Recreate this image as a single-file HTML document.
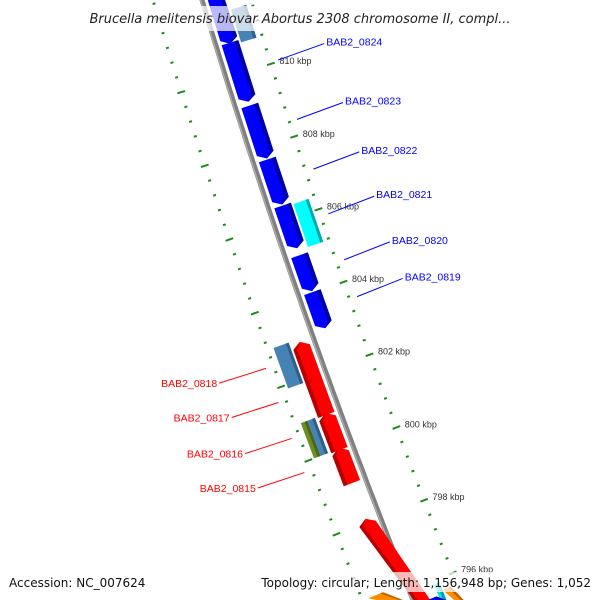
<!DOCTYPE html>
<html><head><meta charset="utf-8">
<style>
html,body{margin:0;padding:0;background:#fff;width:600px;height:600px;overflow:hidden;}
svg{display:block;font-family:"Liberation Sans","DejaVu Sans",sans-serif;overflow:hidden;}
</style></head>
<body>
<svg id="map" width="600" height="600" viewBox="0 0 600 600" xmlns="http://www.w3.org/2000/svg">
<g id="ticks"></g>
<g id="backbone"></g>
<g id="genes"></g>
<g id="labels"></g>
<g id="overlay">
<rect x="72" y="6" width="456" height="25" fill="#fff" opacity="0.72"/>
<text x="300" y="23" text-anchor="middle" font-size="13" font-style="italic" fill="#222" style="font-family:'DejaVu Sans',sans-serif">Brucella melitensis biovar Abortus 2308 chromosome II, compl...</text>
<text x="9" y="587" font-size="12" fill="#111" style="font-family:'DejaVu Sans',sans-serif">Accession: NC_007624</text>
<rect x="258" y="572" width="338" height="20" fill="#fff" opacity="0.72"/>
<text x="591" y="587" text-anchor="end" font-size="12" fill="#111" style="font-family:'DejaVu Sans',sans-serif">Topology: circular; Length: 1,156,948 bp; Genes: 1,052</text>
</g>
</svg>
<script>
// ---- data ----
const tickKbp = [810, 808, 806, 804, 802, 800, 798, 796];
const tickLabels = ['810 kbp','808 kbp','806 kbp','804 kbp','802 kbp','800 kbp','798 kbp','796 kbp'];
const geneNames = ['g0','BAB2_0824','BAB2_0823','BAB2_0822','BAB2_0821','BAB2_0820','BAB2_0819','BAB2_0818','BAB2_0817','BAB2_0816','BAB2_0815','g11'];
const geneStart = [812.2, 810.85, 809.13, 807.65, 806.39, 805.03, 804.02, 801.83, 800.93, 799.97, 799.07, 794.0];
const geneEnd   = [810.82, 809.23, 807.68, 806.42, 805.22, 804.05, 803.03, 802.92, 801.97, 800.98, 800.03, 798.1];
const geneSide  = [1,1,1,1,1,1,1,-1,-1,-1,-1,-1];
const labeled   = [false,true,true,true,true,true,true,true,true,true,true,false];
const featStart = [811.67, 806.34, 803.0, 800.96, 800.96, 796.2, 795.9, 795.6, 795.7];
const featEnd   = [810.77, 805.16, 801.9, 800.0, 800.0, 794.0, 795.3, 794.0, 794.5];
const featTier  = ['out','out','in','inA','inB','in','outA','blue','outB'];
const featColor = ['#4682b4','#00ffff','#4682b4','#6b8e23','#4682b4','#ff8c00','#00e5ee','#0000ff','#ff8c00'];

// ---- geometry ----
const B = y => 202 + 0.3017*y + 8.33e-5*y*y;
const Bs = y => 0.3017 + 1.666e-4*y;
const Y = k => 78 + (810 - k)*36.6;
function P(k, d){
  const y0 = Y(k), x0 = B(y0), s = Bs(y0), n = Math.sqrt(1+s*s);
  return [x0 + d/n, y0 - d*s/n];
}
const NS = 'http://www.w3.org/2000/svg';
function mk(tag, attrs, parent){
  const e = document.createElementNS(NS, tag);
  for (const a in attrs) e.setAttribute(a, attrs[a]);
  parent.appendChild(e); return e;
}
const pts = arr => arr.map(p => Math.max(-5,Math.min(605,p[0])).toFixed(1)+','+Math.max(-5,Math.min(605,p[1])).toFixed(1)).join(' ');

// ---- tick rings ----
const gT = document.getElementById('ticks');
for (let i = 7920; i <= 8140; i += 4){
  const k = i/10, major = (i % 20 === 0);
  [47, -47].forEach(d => {
    const L = major ? 4 : 1.5;
    const a = P(k, d - L), b = P(k, d + L);
    if (a[1] > 600 || b[1] > 600 || a[1] < 0) return;
    const ln = mk('line', {x1:a[0],y1:a[1],x2:b[0],y2:b[1],stroke:'#1c8a1c','stroke-width':2}, gT);
    
    
  });
}
tickKbp.forEach((k, i) => {
  const p = P(k, 56);
  const t = mk('text', {x:p[0], y:p[1]+3, 'font-size':9, fill:'#333'}, gT);
  
  
  t.textContent = tickLabels[i];
});

// ---- backbone ----
const gB = document.getElementById('backbone');
const bb = [];
for (let k = 812.5; k >= 794; k -= 0.25) bb.push(P(k, 0));
const bl = mk('polyline', {points:pts(bb), fill:'none', stroke:'#808080','stroke-width':5}, gB);


const bl2 = mk('polyline', {points:pts(bb.map(p=>[p[0]-1.5,p[1]])), fill:'none', stroke:'#b0b0b0','stroke-width':1.2}, gB);



// ---- genes ----
const gG = document.getElementById('genes');
const shade = {'#0000ff':'#0000a8','#ff0000':'#b80000','#00ffff':'#00aaaa','#4682b4':'#2f5f88','#6b8e23':'#4a6418','#ff8c00':'#c06000','#00e5ee':'#00a0aa'};
geneNames.forEach((nm, i) => {
  const side = geneSide[i];
  const d1 = side > 0 ? 5.5 : -23, d2 = side > 0 ? 23 : -5.5;
  const ks = geneStart[i], ke = geneEnd[i];
  const dir = ke > ks ? 1 : -1;
  const head = 0.14*dir;
  const kh = ke - head;
  const col = side > 0 ? '#0000ff' : '#ff0000';
  const poly = [P(ks,d1), P(kh,d1), P(ke,(d1+d2)/2), P(kh,d2), P(ks,d2)];
  const g = mk('polygon', {points:pts(poly), fill:col}, gG);
  
  
  const sd = side > 0 ? [d2-4, d2] : [d1, d1+4];
  const sp = [P(ks,sd[0]), P(kh,sd[0]), P(ke,(d1+d2)/2), P(kh,sd[1]), P(ks,sd[1])];
  const s = mk('polygon', {points:pts(sp), fill:shade[col]}, gG);
  
  
});
const tierD = {out:[25,41], in:[-41,-25], inA:[-41,-34], inB:[-34,-26], outA:[25,31], outB:[31,40], blue:[5.5,23]};
featStart.forEach((ks, i) => {
  const [d1, d2] = tierD[featTier[i]], ke = featEnd[i];
  const r = mk('polygon', {points:pts([P(ks,d1),P(ke,d1),P(ke,d2),P(ks,d2)]), fill:featColor[i]}, gG);
  
  
  const s = mk('polygon', {points:pts([P(ks,d2-3),P(ke,d2-3),P(ke,d2),P(ks,d2)]), fill:shade[featColor[i]]}, gG);
  
  
});

// ---- labels ----
const gL = document.getElementById('labels');
geneNames.forEach((nm, i) => {
  if (!labeled[i]) return;
  const side = geneSide[i];
  let km = (geneStart[i] + geneEnd[i]) / 2;
  const col = side > 0 ? '#0000ff' : '#ff0000';
  let a, b;
  if (side > 0){ a = P(km, 55); b = P(km + 0.05, 104); }
  else { km += 0.2; a = P(km, -55); b = P(km + 0.05, -104); }
  const ln = mk('line', {x1:a[0],y1:a[1],x2:b[0],y2:b[1],stroke:col,'stroke-width':1}, gL);
  
  
  const t = mk('text', {x: b[0] + (side>0?2:-2), y: b[1] + (side>0?2:4), 'font-size':10.5, fill:col, 'text-anchor': side>0?'start':'end'}, gL);
  
  
  t.textContent = nm;
});
</script>
</body></html>
